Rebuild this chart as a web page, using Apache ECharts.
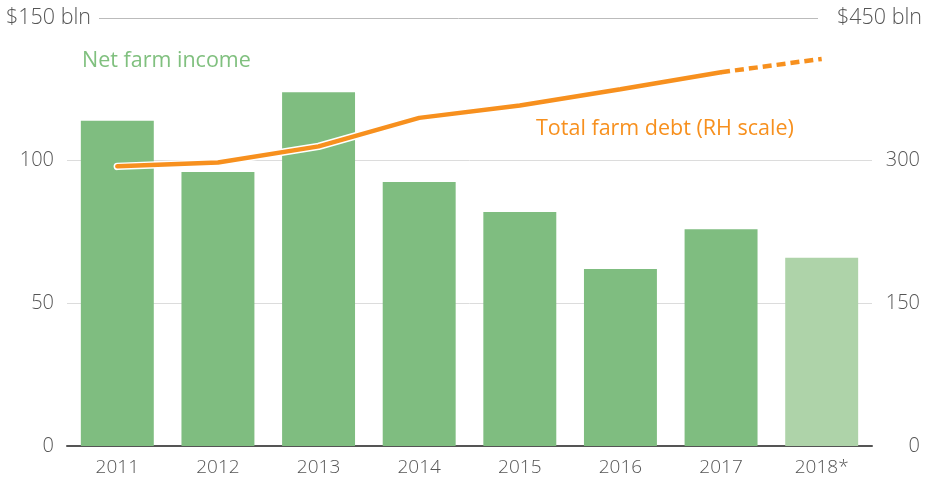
<!DOCTYPE html>
<html><head><meta charset="utf-8">
<script src="https://cdn.jsdelivr.net/npm/echarts@6/dist/echarts.min.js"></script>
<style>html,body{margin:0;padding:0;background:#fff}#c{width:929px;height:482px}</style>
</head><body><div id="c"></div>
<script>
const categories = ['2011','2012','2013','2014','2015','2016','2017','2018*'];
const netIncome = [114, 96, 124, 92.5, 82, 62, 76, 66];
const farmDebt = [294, 298, 315, 345, 358, 375, 393, 407];
const leftTicks = [0, 50, 100, 150];
const rightTicks = [0, 150, 300, 450];

const FONT = '"Open Sans", sans-serif';
const solidDebt = farmDebt.map((v, i) => i <= 6 ? v : null);
const dashDebt = farmDebt.map((v, i) => i >= 6 ? v : null);
const barData = netIncome.map((v, i) => i === 7 ? {value: v, itemStyle: {color: '#aed3a9'}} : v);

const chart = echarts.init(document.getElementById('c'));
chart.setOption({
  animation: false,
  grid: {left: 67, right: 57, top: 18, bottom: 36},
  xAxis: {
    type: 'category', data: categories,
    axisLine: {lineStyle: {color: '#555', width: 2}},
    axisTick: {show: false},
    axisLabel: {color: '#555', fontFamily: FONT, fontSize: 19, fontWeight: 300, margin: 12}
  },
  yAxis: [{
    type: 'value', min: 0, max: 150, interval: 50,
    axisLine: {show: false}, axisTick: {show: false},
    splitLine: {lineStyle: {color: ['#dcdcdc', '#dcdcdc', '#dcdcdc', 'rgba(0,0,0,0)'], width: 1}},
    axisLabel: {color: '#555', fontFamily: FONT, fontSize: 20, fontWeight: 300, margin: 13,
      formatter: v => v === leftTicks[3] ? '' : String(v)}
  }, {
    type: 'value', min: 0, max: 450, interval: 150,
    axisLine: {show: false}, axisTick: {show: false}, splitLine: {show: false},
    axisLabel: {color: '#555', fontFamily: FONT, fontSize: 20, fontWeight: 300, margin: 48, align: 'right',
      formatter: v => v === rightTicks[3] ? '' : String(v)}
  }],
  graphic: [
    {type: 'line', shape: {x1: 99, y1: 18.5, x2: 818, y2: 18.5}, style: {stroke: '#bbb', lineWidth: 1}, z: 0},
    {type: 'text', left: 6, top: 7, style: {text: '$' + leftTicks[3] + ' bln', fill: '#555', font: '300 21.5px "Open Sans", sans-serif'}},
    {type: 'text', right: 7, top: 7, style: {text: '$' + rightTicks[3] + ' bln', fill: '#555', font: '300 21.5px "Open Sans", sans-serif'}},
    {type: 'text', left: 82, top: 50, style: {text: 'Net farm income', fill: '#80c07f', font: '400 21.5px "Open Sans", sans-serif'}},
    {type: 'text', left: 536, top: 118, style: {text: 'Total farm debt (RH scale)', fill: '#f7901e', font: '400 21.5px "Open Sans", sans-serif'}}
  ],
  series: [
    {type: 'bar', data: barData, barCategoryGap: '27.5%', itemStyle: {color: '#7fbd80'}, z: 2},
    {type: 'line', yAxisIndex: 1, data: solidDebt, symbol: 'none', lineStyle: {color: '#fff', width: 7.5, cap: 'round'}, z: 3},
    {type: 'line', yAxisIndex: 1, data: solidDebt, symbol: 'none', lineStyle: {color: '#f7901e', width: 4.5, cap: 'round'}, z: 4},
    {type: 'line', yAxisIndex: 1, data: dashDebt, symbol: 'none', lineStyle: {color: '#f7901e', width: 4.5, type: [9, 5]}, z: 4}
  ]
});
</script></body></html>
